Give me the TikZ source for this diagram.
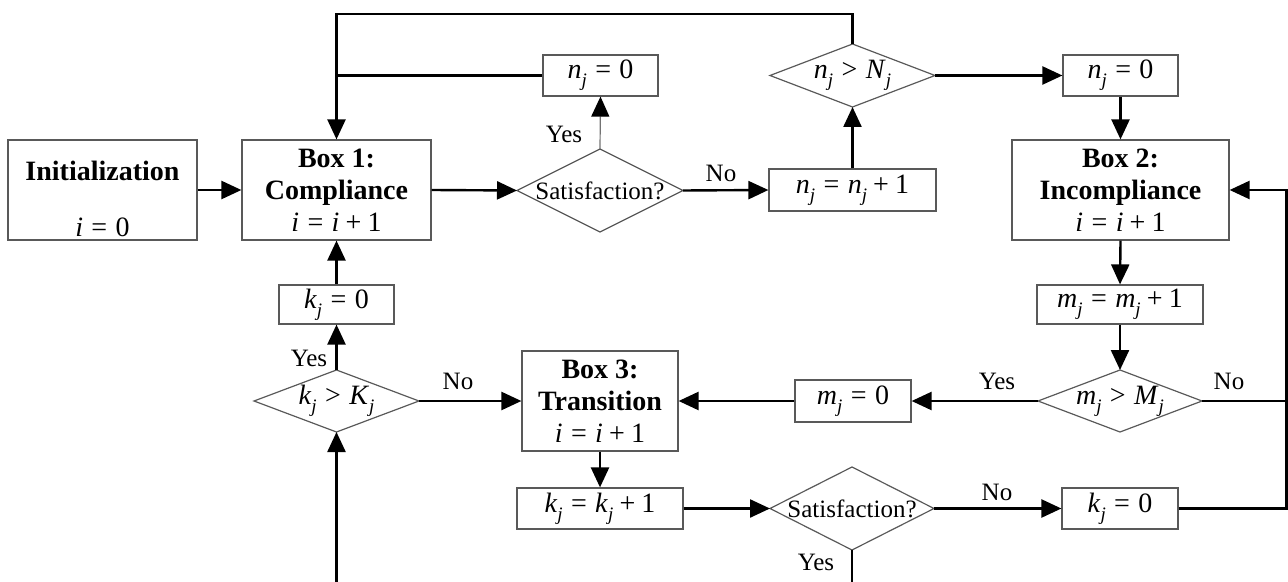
\documentclass[tikz,border=0pt]{standalone}
\usepackage{fontspec}
\setmainfont{Liberation Serif}
\usetikzlibrary{arrows.meta,calc}
\newcommand{\vj}[1]{\textit{#1}\raisebox{-0.6ex}{\fontsize{9.5}{10}\selectfont\textit{j}}}
\newcommand{\rel}[1]{\hspace{0.3em}#1\hspace{0.3em}}
\newcommand{\opp}[1]{\hspace{0.22em}#1\hspace{0.22em}}
\begin{document}
\begin{tikzpicture}[x=0.5pt,y=-0.5pt,
  blk/.style={draw=black!65, line width=0.6pt, inner sep=0pt, align=center,
    font=\fontsize{14}{16}\selectfont},
  dia/.style={inner sep=0pt, outer sep=0pt, align=center, font=\fontsize{14}{16}\selectfont},
  dborder/.style={draw=black!65, line width=0.6pt},
  conn/.style={line width=1.2pt, -{Triangle[length=10pt,width=9pt]}},
  plain/.style={line width=1.2pt},
  thinconn/.style={draw=black!55, line width=0.6pt, -{Triangle[length=10pt,width=9pt,color=black,fill=black]}},
  lbl/.style={font=\fontsize{12.5}{14}\selectfont, inner sep=0pt}]
\useasboundingbox (0,0) rectangle (1288,582);

% boxes
\node[blk, minimum width=94.5pt, minimum height=50pt] (init) at (102.5,190)
  {\rule{0pt}{19pt}\textbf{Initialization}\\[12pt]\textit{i}\rel{=}0};
\node[blk, minimum width=94.5pt, minimum height=50pt] (box1) at (336.5,190)
  {\textbf{Box 1:}\\\textbf{Compliance}\\\textit{i}\rel{=}\textit{i}\opp{+}1};
\node[blk, minimum width=57.5pt, minimum height=20.5pt] (n0a) at (600.5,75.5) {\vj{n}\rel{=}0};
\node[blk, minimum width=83.5pt, minimum height=21pt] (ninc) at (852.5,190) {\vj{n}\rel{=}\vj{n}\opp{+}1};
\node[blk, minimum width=57.5pt, minimum height=20.5pt] (n0b) at (1120.5,75.5) {\vj{n}\rel{=}0};
\node[blk, minimum width=108.5pt, minimum height=50pt] (box2) at (1120.5,190)
  {\textbf{Box 2:}\\\textbf{Incompliance}\\\textit{i}\rel{=}\textit{i}\opp{+}1};
\node[blk, minimum width=83pt, minimum height=19.5pt] (minc) at (1120,304.5) {\vj{m}\rel{=}\vj{m}\opp{+}1};
\node[blk, minimum width=58pt, minimum height=21pt] (m0) at (853,401) {\vj{m}\rel{=}0};
\node[blk, minimum width=78pt, minimum height=50pt] (box3) at (600,401)
  {\textbf{Box 3:}\\\textbf{Transition}\\\textit{i}\rel{=}\textit{i}\opp{+}1};
\node[blk, minimum width=57.5pt, minimum height=19.5pt] (k0a) at (336.5,304.5) {\vj{k}\rel{=}0};
\node[blk, minimum width=83pt, minimum height=20.5pt] (kinc) at (600,508.5) {\vj{k}\rel{=}\vj{k}\opp{+}1};
\node[blk, minimum width=58pt, minimum height=20.5pt] (k0b) at (1120,508.5) {\vj{k}\rel{=}0};

% diamonds
\node[dia, minimum width=83pt, minimum height=41.5pt, font=\fontsize{12.5}{14}\selectfont] (satA) at (600,190.5) {Satisfaction?};
\node[dia, minimum width=82.5pt, minimum height=31.5pt] (nN) at (852.5,75.5) {\vj{n}\rel{>}\vj{N}};
\node[dia, minimum width=82pt, minimum height=31pt] (mM) at (1120,401) {\vj{m}\rel{>}\vj{M}};
\node[dia, minimum width=82.5pt, minimum height=31pt] (kK) at (336.5,401) {\vj{k}\rel{>}\vj{K}};
\node[dia, minimum width=82pt, minimum height=41.5pt, font=\fontsize{12.5}{14}\selectfont] (satB) at (852,508.5) {Satisfaction?};
\foreach \d in {satA,nN,mM,kK,satB}
  \draw[dborder] (\d.north) -- (\d.east) -- (\d.south) -- (\d.west) -- cycle;

% helper coordinates
\coordinate (top) at (0,14);
\coordinate (rt) at (1286.5,0);
\coordinate (bot) at (0,582);

% connectors
\draw[conn] (init) -- (box1);
\draw[conn] (box1.east) -- (satA.west);
\draw[thinconn] (satA.north) -- (n0a.south);
\draw[conn] (satA.east) -- (ninc.west);
\draw[conn] (ninc.north) -- (nN.south);
\draw[conn] (nN.east) -- (n0b.west);
\draw[conn] (nN.north) -- (nN.north |- top) -| (box1.north);
\draw[plain] (n0a.west) -- (n0a.west -| box1.north);
\draw[conn] (n0b.south) -- (box2.north);
\draw[conn] (box2.south) -- (minc.north);
\draw[conn] (minc.south) -- (mM.north);
\draw[conn] (mM.west) -- (m0.east);
\draw[conn] (m0.west) -- (box3.east);
\draw[plain] (mM.east) -- (mM.east -| rt);
\draw[conn] (k0b.east) -- (k0b.east -| rt) |- (box2.east);
\draw[conn] (box3.south) -- (kinc.north);
\draw[conn] (kinc.east) -- (satB.west);
\draw[conn] (satB.east) -- (k0b.west);
\draw[plain] (satB.south) -- (satB.south |- bot);
\draw[conn] (kK.south |- bot) -- (kK.south);
\draw[conn] (kK.north) -- (k0a.south);
\draw[conn] (kK.east) -- (box3.west);
\draw[conn] (k0a.north) -- (box1.south);

% labels
\node[lbl] (yA) at (564,134) {Yes};
\node[lbl] (nA) at (721,173) {No};
\node[lbl] (yK) at (309,358) {Yes};
\node[lbl] (nK) at (458,381) {No};
\node[lbl] (yM) at (997,381) {Yes};
\node[lbl] (nM) at (1229,381) {No};
\node[lbl] (nB) at (997,492) {No};
\node[lbl] (yB) at (816,562) {Yes};
\end{tikzpicture}
\end{document}
